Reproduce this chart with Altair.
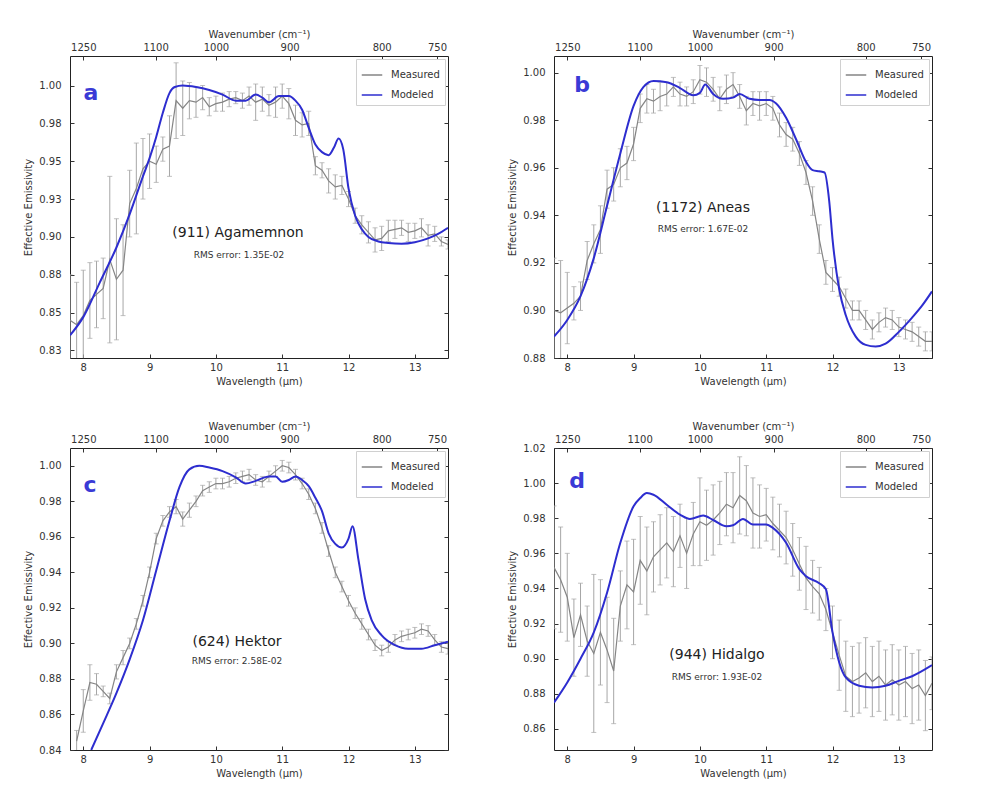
import altair as alt
import pandas as pd

# ---------------- data ----------------
LAM = [7.8, 7.9, 8.0, 8.1, 8.2, 8.3, 8.4, 8.5, 8.6, 8.7, 8.8, 8.9, 9.0, 9.1, 9.2, 9.3, 9.4, 9.5, 9.6, 9.7,
       9.8, 9.9, 10.0, 10.1, 10.2, 10.3, 10.4, 10.5, 10.6, 10.7, 10.8, 10.9, 11.0, 11.1, 11.2, 11.3, 11.4,
       11.5, 11.6, 11.7, 11.8, 11.9, 12.0, 12.1, 12.2, 12.3, 12.4, 12.5, 12.6, 12.7, 12.8, 12.9, 13.0,
       13.1, 13.2, 13.3, 13.4, 13.5]
LAM_C = LAM[1:]

# (911) Agamemnon
MEAS_A = [0.845, 0.842, 0.848, 0.858, 0.862, 0.866, 0.885, 0.872, 0.878, 0.922, 0.932, 0.945, 0.950, 0.948,
          0.958, 0.960, 0.990, 0.985, 0.990, 0.989, 0.992, 0.986, 0.988, 0.989, 0.991, 0.992, 0.990, 0.993,
          0.989, 0.991, 0.987, 0.989, 0.993, 0.988, 0.977, 0.974, 0.975, 0.947, 0.944, 0.937, 0.933, 0.934,
          0.925, 0.914, 0.908, 0.903, 0.898, 0.899, 0.904, 0.905, 0.906, 0.903, 0.904, 0.906, 0.901, 0.902,
          0.897, 0.895]
ERR_A = [0.030, 0.028, 0.030, 0.025, 0.022, 0.020, 0.055, 0.040, 0.030, 0.022, 0.030, 0.020, 0.018, 0.012,
         0.008, 0.020, 0.025, 0.018, 0.012, 0.010, 0.008, 0.006, 0.005, 0.006, 0.005, 0.004, 0.005, 0.006,
         0.012, 0.008, 0.007, 0.010, 0.008, 0.010, 0.010, 0.008, 0.008, 0.006, 0.005, 0.008, 0.008, 0.006,
         0.005, 0.005, 0.006, 0.007, 0.008, 0.008, 0.007, 0.006, 0.005, 0.006, 0.005, 0.006, 0.007, 0.005,
         0.003, 0.003]
MLAM_A = [7.8, 8.0, 8.25, 8.5, 8.7, 8.9, 9.0, 9.1, 9.2, 9.3, 9.38, 9.5, 9.7, 9.9, 10.1, 10.3, 10.45, 10.6,
          10.7, 10.8, 10.95, 11.1, 11.2, 11.3, 11.4, 11.5, 11.6, 11.7, 11.78, 11.85, 11.92, 12.0, 12.1, 12.2,
          12.3, 12.45, 12.6, 12.8, 13.0, 13.2, 13.35, 13.5]
MOD_A = [0.835, 0.847, 0.870, 0.893, 0.915, 0.940, 0.952, 0.966, 0.982, 0.995, 0.999, 1.000, 0.999, 0.997,
         0.994, 0.990, 0.990, 0.994, 0.992, 0.989, 0.993, 0.993, 0.990, 0.984, 0.972, 0.961, 0.956, 0.954,
         0.959, 0.965, 0.958, 0.932, 0.914, 0.905, 0.900, 0.897, 0.896, 0.8955, 0.8965, 0.899, 0.902, 0.906]

# (1172) Aneas
MEAS_B = [0.900, 0.899, 0.901, 0.903, 0.906, 0.921, 0.928, 0.934, 0.951, 0.953, 0.960, 0.962, 0.970, 0.985,
          0.989, 0.988, 0.990, 0.991, 0.994, 0.991, 0.990, 0.992, 0.997, 0.996, 0.993, 0.989, 0.993, 0.995,
          0.990, 0.984, 0.987, 0.986, 0.987, 0.985, 0.978, 0.974, 0.972, 0.966, 0.958, 0.946, 0.930, 0.916,
          0.913, 0.910, 0.905, 0.900, 0.900, 0.896, 0.892, 0.895, 0.897, 0.896, 0.893, 0.892, 0.891, 0.889,
          0.887, 0.887]
ERR_B = [0.022, 0.022, 0.015, 0.007, 0.006, 0.008, 0.008, 0.010, 0.008, 0.007, 0.008, 0.007, 0.007, 0.006,
         0.006, 0.005, 0.006, 0.005, 0.004, 0.005, 0.004, 0.005, 0.006, 0.006, 0.005, 0.005, 0.006, 0.005,
         0.005, 0.006, 0.005, 0.006, 0.005, 0.005, 0.005, 0.005, 0.005, 0.005, 0.005, 0.006, 0.006, 0.005,
         0.005, 0.004, 0.004, 0.004, 0.004, 0.004, 0.004, 0.004, 0.004, 0.004, 0.004, 0.004, 0.004, 0.004,
         0.004, 0.004]
MLAM_B = [7.8, 8.0, 8.2, 8.4, 8.6, 8.8, 9.0, 9.15, 9.3, 9.5, 9.7, 9.9, 10.0, 10.08, 10.2, 10.35, 10.5, 10.6,
          10.75, 10.9, 11.05, 11.15, 11.3, 11.45, 11.6, 11.7, 11.8, 11.88, 11.95, 12.0, 12.1, 12.2, 12.35,
          12.5, 12.65, 12.8, 13.0, 13.2, 13.35, 13.5]
MOD_B = [0.889, 0.896, 0.906, 0.922, 0.944, 0.966, 0.986, 0.994, 0.9965, 0.996, 0.9935, 0.9905, 0.9915,
         0.995, 0.991, 0.989, 0.9895, 0.991, 0.989, 0.9885, 0.9885, 0.987, 0.981, 0.972, 0.9625, 0.959,
         0.9585, 0.958, 0.946, 0.930, 0.909, 0.898, 0.889, 0.8855, 0.8848, 0.886, 0.891, 0.897, 0.902, 0.908]

# (624) Hektor
MEAS_C = [0.845, 0.862, 0.878, 0.877, 0.873, 0.869, 0.884, 0.892, 0.900, 0.911, 0.924, 0.940, 0.959, 0.969,
          0.974, 0.977, 0.970, 0.975, 0.980, 0.986, 0.988, 0.990, 0.990, 0.991, 0.993, 0.994, 0.995, 0.992,
          0.991, 0.994, 0.997, 1.000, 0.999, 0.995, 0.990, 0.984, 0.976, 0.965, 0.952, 0.940, 0.932, 0.924,
          0.917, 0.911, 0.905, 0.899, 0.896, 0.898, 0.902, 0.904, 0.905, 0.906, 0.908, 0.907, 0.902, 0.898,
          0.897]
ERR_C = [0.006, 0.012, 0.010, 0.006, 0.003, 0.003, 0.004, 0.004, 0.003, 0.003, 0.003, 0.003, 0.003, 0.003,
         0.003, 0.004, 0.004, 0.004, 0.003, 0.003, 0.003, 0.003, 0.003, 0.003, 0.003, 0.003, 0.003, 0.003,
         0.003, 0.003, 0.003, 0.003, 0.003, 0.003, 0.003, 0.003, 0.003, 0.003, 0.003, 0.003, 0.003, 0.003,
         0.003, 0.003, 0.003, 0.003, 0.003, 0.003, 0.003, 0.003, 0.003, 0.003, 0.003, 0.003, 0.003, 0.003,
         0.003]
MLAM_C = [8.12, 8.3, 8.5, 8.7, 8.9, 9.1, 9.3, 9.45, 9.6, 9.75, 9.9, 10.1, 10.3, 10.45, 10.6, 10.8, 10.9,
          11.0, 11.1, 11.2, 11.3, 11.4, 11.5, 11.6, 11.7, 11.8, 11.9, 12.0, 12.06, 12.15, 12.25, 12.35, 12.5,
          12.7, 12.9, 13.1, 13.3, 13.5]
MOD_C = [0.840, 0.855, 0.872, 0.891, 0.913, 0.941, 0.969, 0.988, 0.998, 1.000, 0.999, 0.997, 0.9935, 0.990,
         0.9915, 0.994, 0.994, 0.991, 0.992, 0.994, 0.992, 0.9885, 0.982, 0.9745, 0.962, 0.956, 0.954, 0.959,
         0.966, 0.947, 0.925, 0.913, 0.9045, 0.899, 0.897, 0.897, 0.899, 0.901]

# (944) Hidalgo
MEAS_D = [0.952, 0.945, 0.935, 0.912, 0.925, 0.910, 0.903, 0.915, 0.905, 0.893, 0.930, 0.942, 0.938, 0.956,
          0.950, 0.958, 0.962, 0.966, 0.961, 0.970, 0.960, 0.971, 0.978, 0.976, 0.979, 0.983, 0.988, 0.986,
          0.993, 0.990, 0.983, 0.981, 0.982, 0.977, 0.973, 0.969, 0.962, 0.954, 0.946, 0.941, 0.937, 0.928,
          0.915, 0.902, 0.890, 0.887, 0.889, 0.892, 0.887, 0.890, 0.885, 0.888, 0.885, 0.887, 0.883, 0.885,
          0.879, 0.886]
ERR_D = [0.035, 0.030, 0.025, 0.022, 0.018, 0.020, 0.045, 0.030, 0.030, 0.030, 0.020, 0.025, 0.030, 0.025,
         0.025, 0.020, 0.020, 0.020, 0.020, 0.018, 0.020, 0.018, 0.025, 0.020, 0.020, 0.018, 0.018, 0.020,
         0.022, 0.020, 0.020, 0.018, 0.015, 0.015, 0.015, 0.015, 0.015, 0.015, 0.018, 0.015, 0.015, 0.012,
         0.015, 0.020, 0.020, 0.020, 0.020, 0.020, 0.020, 0.020, 0.020, 0.020, 0.020, 0.020, 0.020, 0.020,
         0.020, 0.015]
MLAM_D = [7.8, 8.0, 8.2, 8.4, 8.6, 8.8, 9.0, 9.1, 9.2, 9.3, 9.5, 9.7, 9.85, 10.05, 10.2, 10.4, 10.5, 10.65,
          10.8, 11.0, 11.1, 11.3, 11.5, 11.6, 11.8, 11.9, 12.0, 12.1, 12.2, 12.4, 12.6, 12.8, 13.0, 13.2, 13.5]
MOD_D = [0.875, 0.8865, 0.900, 0.915, 0.9376, 0.966, 0.9868, 0.9915, 0.9943, 0.9934, 0.9877, 0.982, 0.9796,
         0.9815, 0.979, 0.9754, 0.976, 0.9796, 0.9764, 0.9764, 0.9745, 0.966, 0.951, 0.947, 0.943, 0.9395,
         0.915, 0.898, 0.8893, 0.8846, 0.8836, 0.8846, 0.8874, 0.890, 0.8963]

WL_TICKS = [8, 9, 10, 11, 12, 13]
WN_TICKS = [1250, 1100, 1000, 900, 800, 750]
YT_A = [0.825, 0.85, 0.875, 0.9, 0.925, 0.95, 0.975, 1.0]
YT_B = [0.88, 0.90, 0.92, 0.94, 0.96, 0.98, 1.00]
YT_C = [0.84, 0.86, 0.88, 0.90, 0.92, 0.94, 0.96, 0.98, 1.00]
YT_D = [0.86, 0.88, 0.90, 0.92, 0.94, 0.96, 0.98, 1.00, 1.02]

# ---------------- style ----------------
BLUE = "#2d2dcf"
LETTER_BLUE = "#3a3ad6"
GRAY_LINE = "#858585"
GRAY_ERR = "#a6a6a6"
FONT = "DejaVu Sans"
W, H = 378, 302
X_DOMAIN = [7.8, 13.5]


def panel(letter, name, rms, lam, meas, err, mlam, mod, ydom, yticks, pos):
    mdf = pd.DataFrame({"lam": lam, "emis": meas, "err": err})
    mdf["lo"] = mdf["emis"] - mdf["err"]
    mdf["hi"] = mdf["emis"] + mdf["err"]
    mdf["series"] = "Measured"
    odf = pd.DataFrame({"lam": mlam, "emis": mod})
    odf["series"] = "Modeled"

    xs = alt.Scale(domain=X_DOMAIN, nice=False, zero=False)
    ys = alt.Scale(domain=ydom, nice=False, zero=False)
    color = alt.Color(
        "series:N",
        scale=alt.Scale(domain=["Measured", "Modeled"], range=[GRAY_LINE, BLUE]),
        legend=alt.Legend(
            title=None, orient="top-right", offset=3, symbolType="stroke", symbolSize=420,
            symbolStrokeWidth=1.5, labelFontSize=10, labelFont=FONT, labelColor="#333",
            strokeColor="#d0d0d0", fillColor="white", padding=5, rowPadding=4, labelOffset=8,
        ),
    )

    bottom_axis = alt.Axis(orient="bottom", values=WL_TICKS, format="d", title="Wavelength (μm)",
                           offset=-4, tickSize=4, domain=False, grid=False, labelPadding=4, titlePadding=4)
    left_axis = alt.Axis(orient="left", values=yticks, labelExpr="format(datum.value + 0.000001, '.2f')",
                         title="Effective Emissivity", offset=-4, tickSize=4, domain=False, grid=False,
                         labelPadding=9, titlePadding=5)
    top_axis = alt.Axis(orient="top", values=[10000.0 / w for w in WN_TICKS],
                        labelExpr="format(round(10000 / datum.value), 'd')", title="Wavenumber (cm⁻¹)",
                        offset=-4, tickSize=4, domain=False, grid=False, labelPadding=4, titlePadding=3)
    right_axis = alt.Axis(orient="right", values=yticks, labels=False, title="", offset=-4, tickSize=4,
                          domain=False, grid=False)

    base = alt.Chart(mdf)
    bars = base.mark_rule(color=GRAY_ERR, strokeWidth=1, clip=True).encode(
        x=alt.X("lam:Q", scale=xs, axis=None), y=alt.Y("lo:Q", scale=ys, axis=None), y2="hi:Q")
    cap_lo = base.mark_tick(color=GRAY_ERR, orient="horizontal", size=5, thickness=1, clip=True).encode(
        x=alt.X("lam:Q", scale=xs, axis=None), y=alt.Y("lo:Q", scale=ys, axis=None))
    cap_hi = base.mark_tick(color=GRAY_ERR, orient="horizontal", size=5, thickness=1, clip=True).encode(
        x=alt.X("lam:Q", scale=xs, axis=None), y=alt.Y("hi:Q", scale=ys, axis=None))
    mline = base.mark_line(strokeWidth=1.2, clip=True).encode(
        x=alt.X("lam:Q", scale=xs, axis=bottom_axis), y=alt.Y("emis:Q", scale=ys, axis=left_axis),
        color=color)
    oline = alt.Chart(odf).mark_line(strokeWidth=2, interpolate="monotone", clip=True).encode(
        x=alt.X("lam:Q", scale=xs, axis=top_axis), y=alt.Y("emis:Q", scale=ys, axis=right_axis),
        color=color)

    (lx, ly), (nx, ny), (rx, ry) = pos
    t_letter = alt.Chart(pd.DataFrame({"t": [letter]})).mark_text(
        font=FONT, fontSize=22, fontWeight="bold", color=LETTER_BLUE, align="center",
        baseline="middle").encode(text="t:N", x=alt.value(lx), y=alt.value(ly))
    t_name = alt.Chart(pd.DataFrame({"t": [name]})).mark_text(
        font=FONT, fontSize=14, color="#222", align="center", baseline="middle").encode(
        text="t:N", x=alt.value(nx), y=alt.value(ny))
    t_rms = alt.Chart(pd.DataFrame({"t": [rms]})).mark_text(
        font=FONT, fontSize=9, color="#333", align="center", baseline="middle").encode(
        text="t:N", x=alt.value(rx), y=alt.value(ry))

    return alt.layer(bars, cap_lo, cap_hi, mline, oline, t_letter, t_name, t_rms).resolve_axis(
        x="independent", y="independent").properties(width=W, height=H)


pa = panel("a", "(911) Agamemnon", "RMS error: 1.35E-02", LAM, MEAS_A, ERR_A, MLAM_A, MOD_A,
           [0.82, 1.0195], YT_A, ((21, 37), (168, 177), (169, 199)))
pb = panel("b", "(1172) Aneas", "RMS error: 1.67E-02", LAM, MEAS_B, ERR_B, MLAM_B, MOD_B,
           [0.88, 1.007], YT_B, ((28, 29), (149, 152), (149, 173)))
pc = panel("c", "(624) Hektor", "RMS error: 2.58E-02", LAM_C, MEAS_C, ERR_C, MLAM_C, MOD_C,
           [0.84, 1.010], YT_C, ((20, 37), (167, 194), (167, 213)))
pd_ = panel("d", "(944) Hidalgo", "RMS error: 1.93E-02", LAM, MEAS_D, ERR_D, MLAM_D, MOD_D,
            [0.848, 1.020], YT_D, ((23, 33), (163, 207), (163, 229)))

chart = alt.concat(pa, pb, pc, pd_, columns=2, spacing={"row": 33, "column": 58}).resolve_scale(
    x="independent", y="independent", color="independent").resolve_legend(color="independent").properties(
    padding={"left": 15, "top": 20, "right": 5, "bottom": 5}, background="white"
).configure_view(stroke="#222", strokeWidth=1).configure_axis(
    labelFont=FONT, titleFont=FONT, labelFontSize=10, titleFontSize=10, titleFontWeight="normal",
    labelColor="#333", titleColor="#333", tickColor="#333", tickWidth=1)

chart.save("out.html", embed_options={"renderer": "svg", "actions": False})
